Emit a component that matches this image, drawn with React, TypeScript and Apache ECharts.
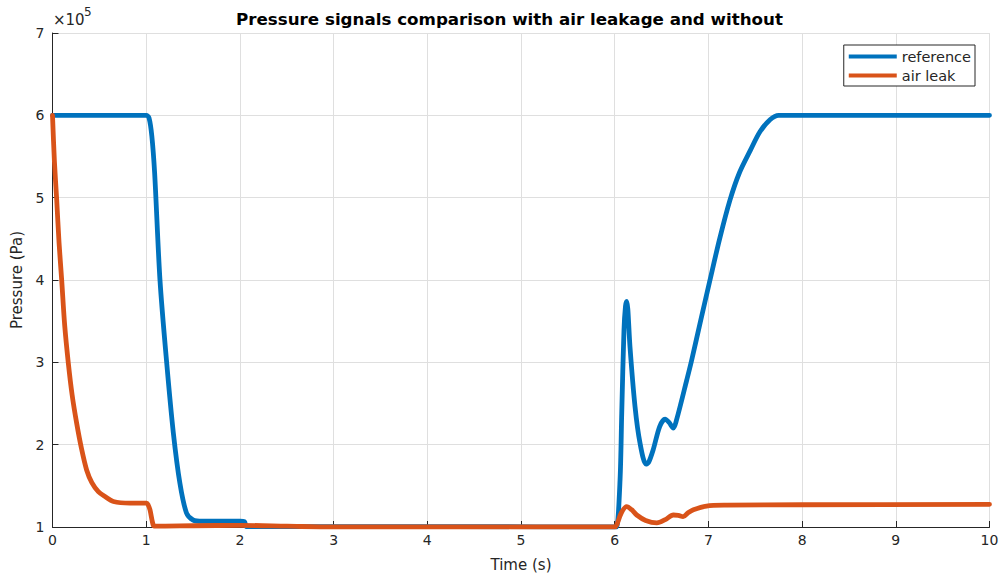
import React, { useEffect, useRef } from "react";
import * as echarts from "echarts";

const SCALE = 1e5;
const xTicks = [0, 1, 2, 3, 4, 5, 6, 7, 8, 9, 10];
const yTicks = [1, 2, 3, 4, 5, 6, 7];

// reference (no leak): time [s], pressure [x1e5 Pa]
const refTime = [0, 1.0, 1.03, 1.06, 1.09, 1.147, 1.219, 1.29, 1.36, 1.43, 1.5, 1.6, 2.0, 2.05, 2.07, 3.0, 4.3, 6.0, 6.02, 6.057, 6.075, 6.099, 6.115, 6.128, 6.14, 6.163, 6.217, 6.27, 6.334, 6.36, 6.41, 6.48, 6.537, 6.58, 6.626, 6.66, 6.77, 6.82, 6.92, 7.017, 7.12, 7.23, 7.33, 7.45, 7.55, 7.66, 7.75, 10];
const refPressure = [6.0, 6.0, 5.97, 5.75, 5.3, 4.0, 2.99, 2.14, 1.53, 1.17, 1.085, 1.07, 1.07, 1.065, 1.005, 1.005, 1.005, 1.0, 1.0, 1.57, 2.38, 3.39, 3.68, 3.74, 3.65, 3.19, 2.46, 2.02, 1.765, 1.78, 1.935, 2.22, 2.31, 2.27, 2.2, 2.3, 2.79, 3.02, 3.52, 4.0, 4.5, 4.97, 5.3, 5.58, 5.8, 5.95, 6.0, 6.0];

// air leak
const leakTime = [0, 0.02, 0.045, 0.07, 0.098, 0.13, 0.169, 0.21, 0.258, 0.31, 0.365, 0.42, 0.489, 0.56, 0.65, 0.827, 1.005, 1.02, 1.04, 1.076, 1.1, 1.5, 2.0, 2.5, 3.0, 6.0, 6.02, 6.07, 6.128, 6.18, 6.235, 6.33, 6.45, 6.54, 6.626, 6.68, 6.73, 6.78, 6.84, 6.98, 7.2, 8.0, 10];
const leakPressure = [6.0, 5.45, 4.97, 4.45, 4.0, 3.45, 2.99, 2.6, 2.26, 1.95, 1.69, 1.54, 1.43, 1.37, 1.31, 1.29, 1.29, 1.27, 1.21, 1.02, 1.01, 1.015, 1.02, 1.01, 1.0, 1.0, 1.02, 1.17, 1.247, 1.21, 1.146, 1.08, 1.05, 1.09, 1.146, 1.14, 1.125, 1.17, 1.21, 1.255, 1.265, 1.27, 1.275];

const FONT = "DejaVu Sans";
const TXT = "#262626";

export default function App() {
  const ref = useRef<HTMLDivElement>(null);
  useEffect(() => {
    if (!ref.current) return;
    const chart = echarts.init(ref.current, null, { renderer: "svg" });
    const refData = refTime.map((t, i) => [t, refPressure[i] * SCALE]);
    const leakData = leakTime.map((t, i) => [t, leakPressure[i] * SCALE]);
    chart.setOption({
      animation: false,
      backgroundColor: "#ffffff",
      textStyle: { fontFamily: FONT },
      title: {
        text: "Pressure signals comparison with air leakage and without",
        left: 504.5,
        top: 5,
        textAlign: "center",
        textStyle: { fontFamily: FONT, fontSize: 16.7, fontWeight: "bold", color: "#000" },
      },
      grid: { left: 52.5, right: 12.5, top: 33, bottom: 54, containLabel: false },
      legend: {
        orient: "vertical",
        right: 27,
        top: 45,
        icon: "rect",
        itemWidth: 48,
        itemHeight: 4,
        itemGap: 4,
        padding: [4, 4, 3, 5],
        backgroundColor: "#fff",
        borderColor: "#262626",
        borderWidth: 1,
        borderRadius: 0,
        textStyle: { fontFamily: FONT, fontSize: 14.5, color: TXT },
        data: ["reference", "air leak"],
      },
      xAxis: {
        type: "value",
        min: xTicks[0],
        max: xTicks[xTicks.length - 1],
        interval: 1,
        name: "Time (s)",
        nameLocation: "middle",
        nameGap: 30,
        nameTextStyle: { fontFamily: FONT, fontSize: 15, color: TXT },
        axisLine: { show: true, onZero: false, lineStyle: { color: TXT, width: 1 } },
        axisTick: { show: true, inside: true, length: 6, lineStyle: { color: TXT } },
        axisLabel: { fontFamily: FONT, fontSize: 14, color: TXT, margin: 6 },
        splitLine: { show: true, lineStyle: { color: "#dfdfdf", width: 1 } },
      },
      yAxis: {
        type: "value",
        min: yTicks[0] * SCALE,
        max: yTicks[yTicks.length - 1] * SCALE,
        interval: SCALE,
        name: "Pressure (Pa)",
        nameLocation: "middle",
        nameGap: 22,
        nameTextStyle: { fontFamily: FONT, fontSize: 15, color: TXT },
        axisLine: { show: true, onZero: false, lineStyle: { color: TXT, width: 1 } },
        axisTick: { show: true, inside: true, length: 6, lineStyle: { color: TXT } },
        axisLabel: {
          fontFamily: FONT,
          fontSize: 14,
          color: TXT,
          margin: 8,
          formatter: (v: number) => String(Math.round(v / SCALE)),
        },
        splitLine: { show: true, lineStyle: { color: "#dfdfdf", width: 1 } },
      },
      graphic: [
        { type: "text", left: 53, top: 12, style: { text: "×10", fontFamily: FONT, fontSize: 15, fill: TXT } },
        { type: "text", left: 84, top: 6, style: { text: "5", fontFamily: FONT, fontSize: 12, fill: TXT } },
      ],
      series: [
        {
          name: "reference",
          type: "line",
          data: refData,
          showSymbol: false,
          symbol: "none",
          smooth: 0.3,
          lineStyle: { color: "#0072BD", width: 4.8, join: "round", cap: "round" },
          itemStyle: { color: "#0072BD" },
          z: 2,
        },
        {
          name: "air leak",
          type: "line",
          data: leakData,
          showSymbol: false,
          symbol: "none",
          smooth: 0.3,
          lineStyle: { color: "#D95319", width: 4.8, join: "round", cap: "round" },
          itemStyle: { color: "#D95319" },
          z: 3,
        },
      ],
    });
    return () => chart.dispose();
  }, []);
  return <div ref={ref} style={{ position: "fixed", left: 0, top: 0, width: 1002, height: 581 }} />;
}
